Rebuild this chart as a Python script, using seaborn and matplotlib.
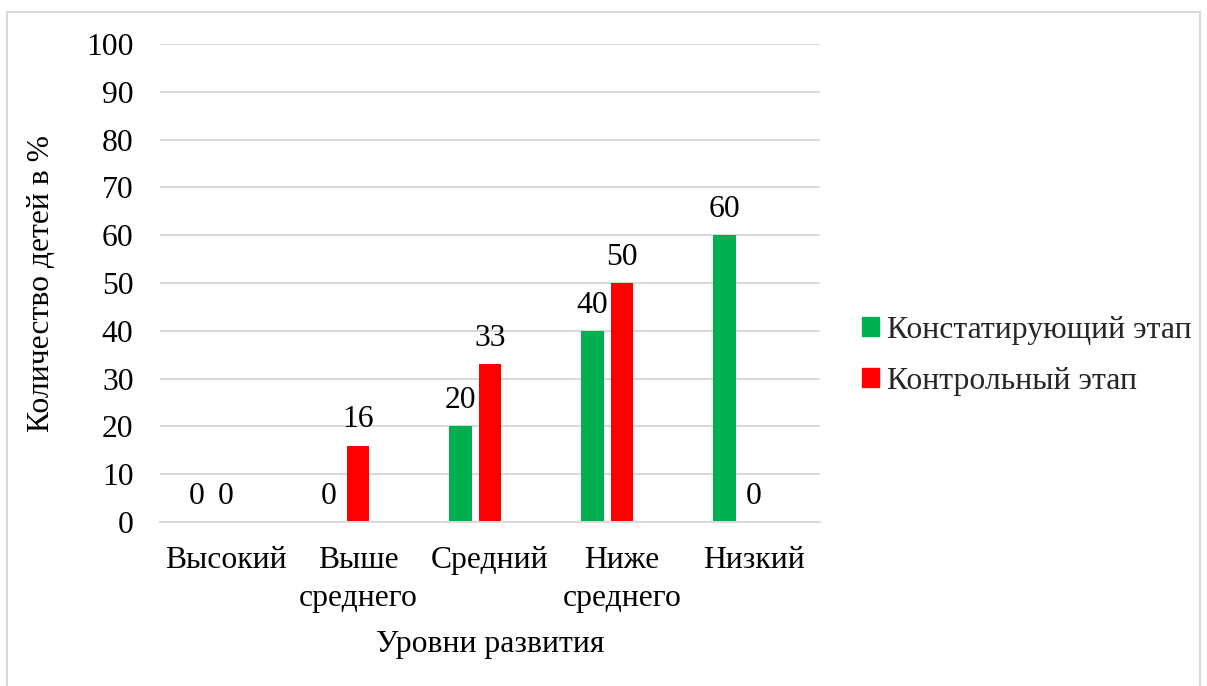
import matplotlib
matplotlib.use("Agg")
import matplotlib.pyplot as plt
import matplotlib.patches as mpatches
import seaborn as sns
import pandas as pd

categories = ["Высокий", "Выше\nсреднего", "Средний", "Ниже\nсреднего", "Низкий"]
series_names = ["Констатирующий этап", "Контрольный этап"]
values_const = [0, 0, 20, 40, 60]
values_ctrl = [0, 16, 33, 50, 0]
colors = {"Констатирующий этап": "#00B050", "Контрольный этап": "#FF0000", "_empty": "#FFFFFF"}
y_ticks = [0, 10, 20, 30, 40, 50, 60, 70, 80, 90, 100]

df = pd.DataFrame({
    "Уровень": categories * 2,
    "Серия": [series_names[0]] * len(categories) + [series_names[1]] * len(categories),
    "Значение": values_const + values_ctrl,
})

sns.set_theme(style="white")
plt.rcParams["font.family"] = ["Liberation Serif", "DejaVu Serif"]
FS = 22.8

fig = plt.figure(figsize=(12.07, 6.86), dpi=100)
ax = fig.add_axes([160 / 1207, 1 - 522 / 686, 660 / 1207, 478 / 686])

sns.barplot(data=df, x="Уровень", y="Значение", hue="Серия",
            hue_order=series_names + ["_empty"], order=categories,
            palette=colors, width=0.672, gap=0.23, dodge=True,
            legend=False, ax=ax, errorbar=None, saturation=1, linewidth=0)

for cont in ax.containers:
    ax.bar_label(cont, fmt="%d", padding=8, fontsize=FS, color="black")

ax.set_ylim(0, 100)
ax.set_xlim(-0.5, 4.5)
ax.set_yticks(y_ticks)
ax.yaxis.grid(True, color="#d9d9d9", linewidth=1.4)
ax.set_axisbelow(True)
for s in ["left", "right", "top"]:
    ax.spines[s].set_visible(False)
ax.spines["bottom"].set_color("#d9d9d9")
ax.spines["bottom"].set_linewidth(1.4)
ax.tick_params(axis="y", length=0, pad=19, labelsize=FS, labelcolor="black")
ax.tick_params(axis="x", length=0, pad=17, labelsize=FS, labelcolor="black")
for lbl in ax.get_xticklabels():
    lbl.set_linespacing(1.42)

ax.set_xlabel("Уровни развития", fontsize=FS, color="black", labelpad=12)
ax.set_ylabel("Количество детей в %", fontsize=FS, color="black", labelpad=22)

handles = [mpatches.Patch(color=colors[n], label=n) for n in series_names]
fig.legend(handles=handles, loc="center left", bbox_to_anchor=(849 / 1207, 1 - 356 / 686),
           frameon=False, fontsize=FS, handlelength=0.55, handleheight=0.55,
           handletextpad=0.25, labelspacing=0.7, borderaxespad=0)

border = mpatches.Rectangle((7 / 1207, -0.01), 1193 / 1207, 1 - 12 / 686 + 0.01,
                            transform=fig.transFigure, fill=False,
                            edgecolor="#d9d9d9", linewidth=1.5)
fig.patches.append(border)

fig.savefig("out.png", dpi=100)
